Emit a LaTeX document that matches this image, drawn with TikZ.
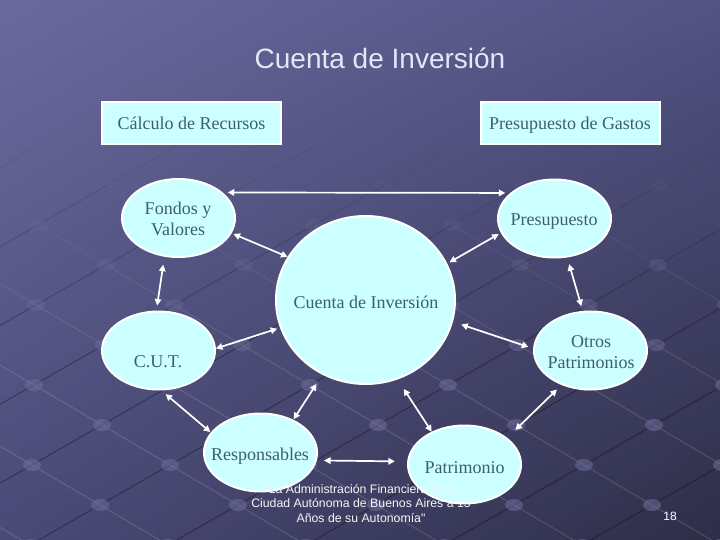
\documentclass[tikz,border=0pt]{standalone}
\usepackage{fontspec}
\setmainfont{Liberation Serif}
\newfontfamily\sansf{Liberation Sans}
\usetikzlibrary{shapes.geometric,arrows.meta,shadings}
\definecolor{bgUL}{HTML}{6A6A9E}
\definecolor{bgUR}{HTML}{525284}
\definecolor{bgLL}{HTML}{4A4A78}
\definecolor{bgLR}{HTML}{2E2E48}
\definecolor{cyanfill}{HTML}{CCFFFF}
\definecolor{nodetext}{HTML}{3D5E6E}
\definecolor{titlecol}{HTML}{E6E6F6}
\definecolor{dotcol}{HTML}{6E6E9C}
\tikzset{
  bubble/.style={ellipse, draw=white, line width=2bp, fill=cyanfill,
    minimum width=113bp, minimum height=78bp, inner sep=0pt},
  bigbubble/.style={bubble, minimum width=179bp, minimum height=168bp},
  labelbox/.style={rectangle, draw=white, line width=2bp, fill=cyanfill,
    minimum width=179bp, minimum height=42bp, inner sep=0pt, text depth=0pt,
    text=nodetext, font=\fontsize{18bp}{21bp}\selectfont},
  ntext/.style={text=nodetext, align=center, inner sep=0pt,
    font=\fontsize{18bp}{21bp}\selectfont},
  link/.style={draw=white, line width=1.7bp, {Triangle[length=6.5bp,width=6.5bp]}-{Triangle[length=6.5bp,width=6.5bp]}}
}
\begin{document}
\begin{tikzpicture}[x=1bp,y=-1bp]
\useasboundingbox (0,0) rectangle (720,540);
\shade[upper left=bgUL, upper right=bgUR, lower left=bgLL, lower right=bgLR] (0,0) rectangle (720,540);
% background perspective grid (decorative)
\begin{scope}
\clip (0,0) rectangle (720,540);
\foreach \i in {-4,...,10}{
  \foreach \j in {-7,...,7}{
    \pgfmathsetmacro\px{102+70*\i+68*\j}
    \pgfmathsetmacro\py{425-40*\i+40*\j}
    \pgfmathsetmacro\op{max(0,min(1,(\py-150)/230))}
    \draw[black, draw opacity=0.28*\op, line width=1.2bp] (\px,\py) -- ++(70,-40);
    \draw[white, draw opacity=0.14*\op, line width=1bp] (\px,\py) -- ++(68,40);
    \fill[dotcol, fill opacity=0.55*\op] (\px,\py) ellipse [x radius=9, y radius=6];
  }
}
\end{scope}
% title
\node[text=titlecol, font=\sansf\fontsize{28bp}{30bp}\selectfont] (title) at (380,58) {Cuenta de Inversión};
% boxes
\node[labelbox] (calc) at (191.5,123) {Cálculo de Recursos};
\node[labelbox] (gastos) at (570,123) {Presupuesto de Gastos};
% bubbles
\node[bubble] (F) at (178.5,218) {};
\node[bubble] (P) at (554.5,218.5) {};
\node[bigbubble] (C) at (365.5,300) {};
\node[bubble] (U) at (158.5,350.5) {};
\node[bubble] (O) at (590.5,350.5) {};
\node[bubble] (R) at (260.5,452.5) {};
\node[bubble] (Pa) at (464.5,464.5) {};
% bubble texts
\node[ntext] (Ft) at (178,219) {Fondos y\\ Valores};
\node[ntext] (Pt) at (554,222) {Presupuesto};
\node[ntext] (Ct) at (366,302) {Cuenta de Inversión};
\node[ntext] (Ut) at (158,362) {C.U.T.};
\node[ntext] (Ot) at (591,352) {Otros\\ Patrimonios};
\node[ntext] (Rt) at (260,456) {Responsables};
\node[ntext] (Pat) at (464.5,468) {Patrimonio};
% connectors
\path[link, shorten <=5bp, shorten >=5bp] (F.30) -- (P.150);
\path[link, shorten <=2bp] (F.-16) -- (C.151);
\path[link, shorten <=2.5bp, shorten >=2.5bp] (P.195) -- (C.24);
\path[link, shorten <=8bp, shorten >=5bp] (F.-110) -- (U.93);
\path[link, shorten <=7bp, shorten >=5bp] (P.-72) -- (O.101);
\path[link, shorten >=3bp] (U.2) -- (C.198);
\path[link, shorten <=8.7bp, shorten >=5bp] (C.-14) -- (O.178);
\path[link, shorten <=5.6bp, shorten >=0.6bp] (U.-86) -- (R.158);
\path[link, shorten <=0.5bp, shorten >=11bp] (R.45) -- (C.-120);
\path[link, shorten <=11.3bp] (C.-68) -- (Pa.135);
\path[link, shorten <=6.4bp, shorten >=11.3bp] (O.-130) -- (Pa.32);
\path[link, shorten <=7.2bp, shorten >=12.3bp] (R.-8) -- (Pa.177);
% footer
\node[text=white!92!gray, align=center, font=\sansf\fontsize{12.3bp}{14.5bp}\selectfont] (foot) at (361,503.5)
  {"La Administración Financiera de la\\ Ciudad Autónoma de Buenos Aires a 15\\ Años de su Autonomía"};
\node[text=white, font=\sansf\fontsize{12bp}{14bp}\selectfont] (pnum) at (670,516) {18};
\end{tikzpicture}
\end{document}
